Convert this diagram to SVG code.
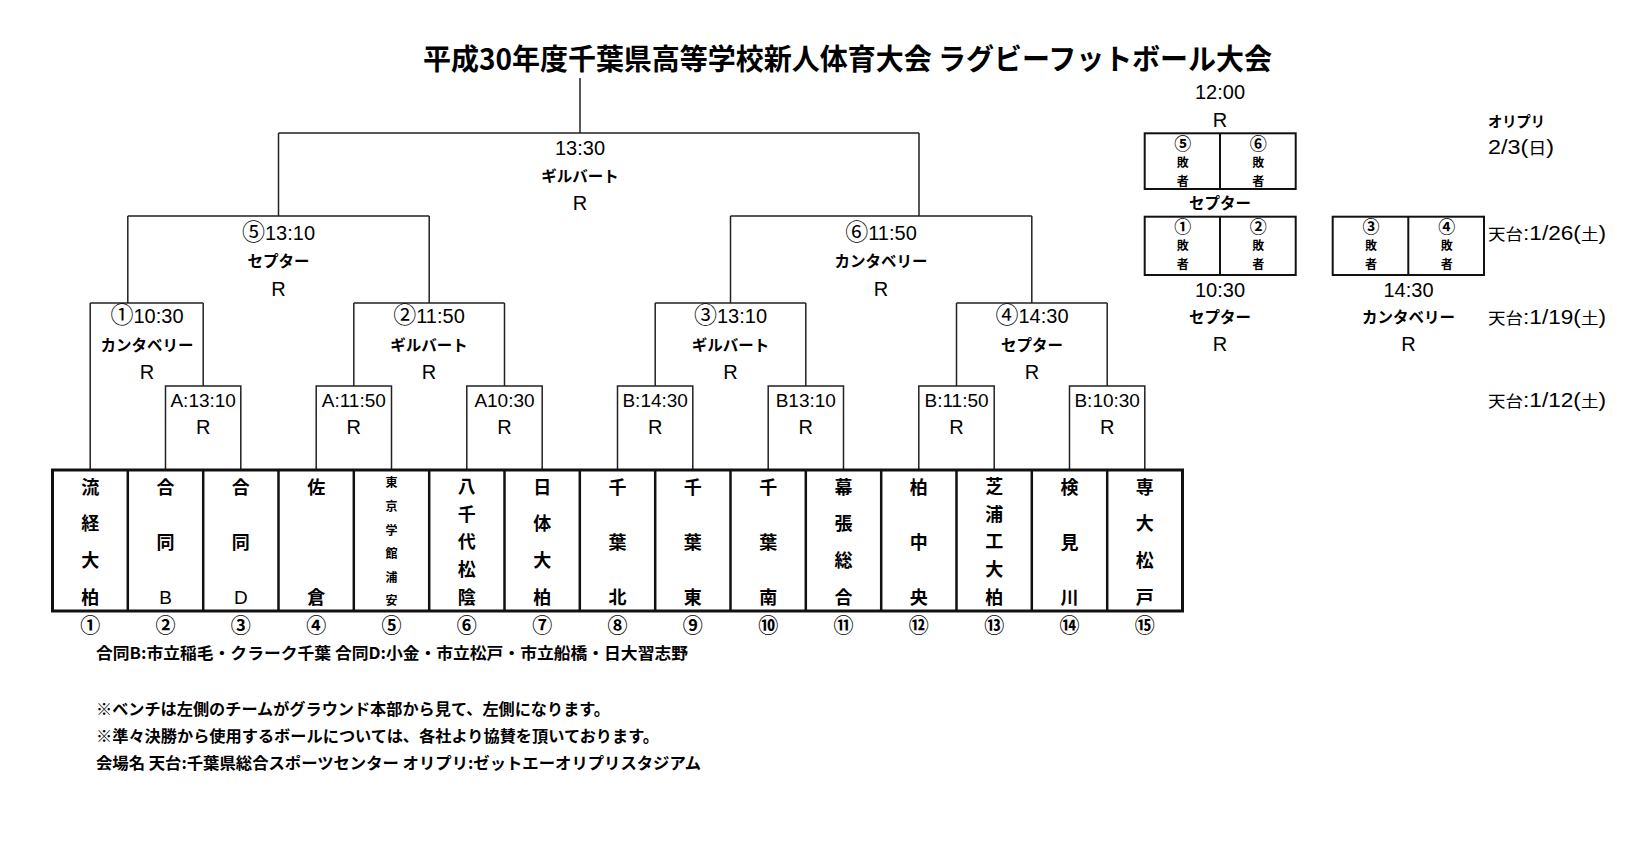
<svg xmlns="http://www.w3.org/2000/svg" width="1645" height="841" viewBox="0 0 1645 841">
<style>
.ln{stroke:#222;stroke-width:1.5;fill:none}
.bx{stroke:#111;fill:none}
.t{font-family:"Liberation Sans","Noto Sans CJK JP",sans-serif;font-size:20px;fill:#000;text-anchor:middle}
.r1{font-size:19px}
.cn{font-family:"Noto Sans CJK JP",sans-serif;font-size:23px}
.k{font-family:"Noto Sans CJK JP",sans-serif;font-size:15.5px;font-weight:bold;fill:#000;text-anchor:middle}
.tm{font-family:"Noto Sans CJK JP",sans-serif;font-size:18px;font-weight:bold;fill:#000;text-anchor:middle}
.lat{font-family:"Liberation Sans",sans-serif;font-weight:normal;font-size:19px}
.sm{font-family:"Noto Sans CJK JP",sans-serif;font-size:12px;font-weight:bold;fill:#000;text-anchor:middle}
.smn{font-size:17px}
.num{font-family:"Noto Sans CJK JP",sans-serif;font-size:20px;font-weight:bold;fill:#000;text-anchor:middle}
.note{font-family:"Noto Sans CJK JP",sans-serif;font-size:16px;font-weight:bold;fill:#000}
.side{font-family:"Liberation Sans","Noto Sans CJK JP",sans-serif;font-size:20px;fill:#000}
.cj{font-family:"Noto Sans CJK JP",sans-serif;font-size:15.5px}
.title{font-family:"Noto Sans CJK JP",sans-serif;font-size:29px;font-weight:bold;fill:#000;text-anchor:middle}
</style>
<rect width="1645" height="841" fill="#fff"/>
<g id="title"><text class="title" x="847.5" y="69.5" textLength="849" lengthAdjust="spacingAndGlyphs">平成30年度千葉県高等学校新人体育大会 ラグビーフットボール大会</text></g>

<g id="connectors">
<path class="ln" d="M580,78V133M278.5,133H919M278.5,133V216M919,133V216"/>
<path class="ln" d="M127.8,216H429.2M127.8,216V303M429.2,216V303"/>
<path class="ln" d="M730.5,216H1031.8M730.5,216V303M1031.8,216V303"/>
<path class="ln" d="M90.2,303H203.2M90.2,303V470M203.2,303V386"/>
<path class="ln" d="M353.8,303H504.5M353.8,303V386M504.5,303V386"/>
<path class="ln" d="M655.2,303H805.8M655.2,303V386M805.8,303V386"/>
<path class="ln" d="M956.5,303H1107.2M956.5,303V386M1107.2,303V386"/>
<path class="ln" d="M165.5,470V386H240.8V470M316.2,470V386H391.5V470M466.8,470V386H542.2V470M617.5,470V386H692.8V470M768.2,470V386H843.5V470M918.8,470V386H994.2V470M1069.5,470V386H1144.8V470"/>
</g>

<g id="final">
<text class="t" x="580" y="155">13:30</text>
<text class="k" x="580" y="181.5">ギルバート</text>
<text class="t" x="580" y="210">R</text>
</g>
<g id="sf5">
<text class="t" x="278.5" y="239.5"><tspan class="cn">⑤</tspan>13:10</text>
<text class="k" x="278.5" y="267">セプター</text>
<text class="t" x="278.5" y="296">R</text>
</g>
<g id="sf6">
<text class="t" x="881" y="239.5"><tspan class="cn">⑥</tspan>11:50</text>
<text class="k" x="881" y="267">カンタベリー</text>
<text class="t" x="881" y="296">R</text>
</g>
<g id="qf1">
<text class="t" x="147" y="323"><tspan class="cn">①</tspan>10:30</text>
<text class="k" x="147" y="351">カンタベリー</text>
<text class="t" x="147" y="379">R</text>
</g>
<g id="qf2">
<text class="t" x="429" y="323"><tspan class="cn">②</tspan>11:50</text>
<text class="k" x="429" y="351">ギルバート</text>
<text class="t" x="429" y="379">R</text>
</g>
<g id="qf3">
<text class="t" x="730.5" y="323"><tspan class="cn">③</tspan>13:10</text>
<text class="k" x="730.5" y="351">ギルバート</text>
<text class="t" x="730.5" y="379">R</text>
</g>
<g id="qf4">
<text class="t" x="1032" y="323"><tspan class="cn">④</tspan>14:30</text>
<text class="k" x="1032" y="351">セプター</text>
<text class="t" x="1032" y="379">R</text>
</g>
<g id="r1a1"><text class="t r1" x="203.2" y="407">A:13:10</text><text class="t" x="203.2" y="434">R</text></g>
<g id="r1a2"><text class="t r1" x="353.8" y="407">A:11:50</text><text class="t" x="353.8" y="434">R</text></g>
<g id="r1a3"><text class="t r1" x="504.5" y="407">A10:30</text><text class="t" x="504.5" y="434">R</text></g>
<g id="r1b1"><text class="t r1" x="655.2" y="407">B:14:30</text><text class="t" x="655.2" y="434">R</text></g>
<g id="r1b2"><text class="t r1" x="805.8" y="407">B13:10</text><text class="t" x="805.8" y="434">R</text></g>
<g id="r1b3"><text class="t r1" x="956.5" y="407">B:11:50</text><text class="t" x="956.5" y="434">R</text></g>
<g id="r1b4"><text class="t r1" x="1107.2" y="407">B:10:30</text><text class="t" x="1107.2" y="434">R</text></g>

<g id="teams">
<rect class="bx" x="52.5" y="470" width="1130" height="141" stroke-width="3"/>
<path class="bx" stroke-width="2.5" d="M127.8,470V611M203.2,470V611M278.5,470V611M353.8,470V611M429.2,470V611M504.5,470V611M579.8,470V611M655.2,470V611M730.5,470V611M805.8,470V611M881.2,470V611M956.5,470V611M1031.8,470V611M1107.2,470V611"/>
</g>
<g id="team1"><text class="tm" x="90.2" y="494">流</text><text class="tm" x="90.2" y="530">経</text><text class="tm" x="90.2" y="567">大</text><text class="tm" x="90.2" y="604">柏</text><text class="num" x="90.2" y="633">①</text></g>
<g id="team2"><text class="tm" x="165.5" y="494">合</text><text class="tm" x="165.5" y="549">同</text><text class="tm lat" x="165.5" y="604">B</text><text class="num" x="165.5" y="633">②</text></g>
<g id="team3"><text class="tm" x="240.8" y="494">合</text><text class="tm" x="240.8" y="549">同</text><text class="tm lat" x="240.8" y="604">D</text><text class="num" x="240.8" y="633">③</text></g>
<g id="team4"><text class="tm" x="316.2" y="494">佐</text><text class="tm" x="316.2" y="604">倉</text><text class="num" x="316.2" y="633">④</text></g>
<g id="team5"><text class="sm" x="391.5" y="487.3">東</text><text class="sm" x="391.5" y="510.9">京</text><text class="sm" x="391.5" y="534.5">学</text><text class="sm" x="391.5" y="558.1">館</text><text class="sm" x="391.5" y="581.7">浦</text><text class="sm" x="391.5" y="605.3">安</text><text class="num" x="391.5" y="633">⑤</text></g>
<g id="team6"><text class="tm" x="466.8" y="493">八</text><text class="tm" x="466.8" y="520.5">千</text><text class="tm" x="466.8" y="548">代</text><text class="tm" x="466.8" y="575.5">松</text><text class="tm" x="466.8" y="603.5">陰</text><text class="num" x="466.8" y="633">⑥</text></g>
<g id="team7"><text class="tm" x="542.2" y="494">日</text><text class="tm" x="542.2" y="530">体</text><text class="tm" x="542.2" y="567">大</text><text class="tm" x="542.2" y="604">柏</text><text class="num" x="542.2" y="633">⑦</text></g>
<g id="team8"><text class="tm" x="617.5" y="494">千</text><text class="tm" x="617.5" y="549">葉</text><text class="tm" x="617.5" y="604">北</text><text class="num" x="617.5" y="633">⑧</text></g>
<g id="team9"><text class="tm" x="692.8" y="494">千</text><text class="tm" x="692.8" y="549">葉</text><text class="tm" x="692.8" y="604">東</text><text class="num" x="692.8" y="633">⑨</text></g>
<g id="team10"><text class="tm" x="768.2" y="494">千</text><text class="tm" x="768.2" y="549">葉</text><text class="tm" x="768.2" y="604">南</text><text class="num" x="768.2" y="633">⑩</text></g>
<g id="team11"><text class="tm" x="843.5" y="494">幕</text><text class="tm" x="843.5" y="530">張</text><text class="tm" x="843.5" y="567">総</text><text class="tm" x="843.5" y="604">合</text><text class="num" x="843.5" y="633">⑪</text></g>
<g id="team12"><text class="tm" x="918.8" y="494">柏</text><text class="tm" x="918.8" y="549">中</text><text class="tm" x="918.8" y="604">央</text><text class="num" x="918.8" y="633">⑫</text></g>
<g id="team13"><text class="tm" x="994.2" y="493">芝</text><text class="tm" x="994.2" y="520.5">浦</text><text class="tm" x="994.2" y="548">工</text><text class="tm" x="994.2" y="575.5">大</text><text class="tm" x="994.2" y="603.5">柏</text><text class="num" x="994.2" y="633">⑬</text></g>
<g id="team14"><text class="tm" x="1069.5" y="494">検</text><text class="tm" x="1069.5" y="549">見</text><text class="tm" x="1069.5" y="604">川</text><text class="num" x="1069.5" y="633">⑭</text></g>
<g id="team15"><text class="tm" x="1144.8" y="494">専</text><text class="tm" x="1144.8" y="530">大</text><text class="tm" x="1144.8" y="567">松</text><text class="tm" x="1144.8" y="604">戸</text><text class="num" x="1144.8" y="633">⑮</text></g>

<g id="place-final">
<text class="t" x="1220" y="99">12:00</text>
<text class="t" x="1220" y="127">R</text>
<rect class="bx" x="1144.7" y="133.3" width="151" height="55.7" stroke-width="2"/>
<path class="bx" stroke-width="2" d="M1220,133.3V189"/>
<text class="sm smn" x="1182.7" y="149.5">⑤</text><text class="sm" x="1182.7" y="166.7">敗</text><text class="sm" x="1182.7" y="185.7">者</text>
<text class="sm smn" x="1258.3" y="149.5">⑥</text><text class="sm" x="1258.3" y="166.7">敗</text><text class="sm" x="1258.3" y="185.7">者</text>
<text class="k" x="1220" y="209">セプター</text>
</g>
<g id="place-12">
<rect class="bx" x="1144.7" y="216.7" width="151" height="58.3" stroke-width="2"/>
<path class="bx" stroke-width="2" d="M1220,216.7V275"/>
<text class="sm smn" x="1182.7" y="233.3">①</text><text class="sm" x="1182.7" y="250.1">敗</text><text class="sm" x="1182.7" y="269.1">者</text>
<text class="sm smn" x="1258.3" y="233.3">②</text><text class="sm" x="1258.3" y="250.1">敗</text><text class="sm" x="1258.3" y="269.1">者</text>
<text class="t" x="1220" y="296.5">10:30</text>
<text class="k" x="1220" y="322.6">セプター</text>
<text class="t" x="1220" y="351">R</text>
</g>
<g id="place-34">
<rect class="bx" x="1332.7" y="216.7" width="151.3" height="58.3" stroke-width="2"/>
<path class="bx" stroke-width="2" d="M1408.3,216.7V275"/>
<text class="sm smn" x="1371" y="233.3">③</text><text class="sm" x="1371" y="250.1">敗</text><text class="sm" x="1371" y="269.1">者</text>
<text class="sm smn" x="1446.7" y="233.3">④</text><text class="sm" x="1446.7" y="250.1">敗</text><text class="sm" x="1446.7" y="269.1">者</text>
<text class="t" x="1408.5" y="296.5">14:30</text>
<text class="k" x="1408.5" y="322.6">カンタベリー</text>
<text class="t" x="1408.5" y="351">R</text>
</g>

<g id="schedule">
<text class="k" x="1488" y="127" style="text-anchor:start;font-size:15px" textLength="57" lengthAdjust="spacingAndGlyphs">オリプリ</text>
<text class="side" x="1488" y="154" textLength="66" lengthAdjust="spacingAndGlyphs">2/3(<tspan class="cj">日</tspan>)</text>
<text class="side" x="1488" y="240" textLength="118" lengthAdjust="spacingAndGlyphs"><tspan class="cj">天台</tspan>:1/26(<tspan class="cj">土</tspan>)</text>
<text class="side" x="1488" y="323.5" textLength="118" lengthAdjust="spacingAndGlyphs"><tspan class="cj">天台</tspan>:1/19(<tspan class="cj">土</tspan>)</text>
<text class="side" x="1488" y="407" textLength="118" lengthAdjust="spacingAndGlyphs"><tspan class="cj">天台</tspan>:1/12(<tspan class="cj">土</tspan>)</text>
</g>

<g id="notes">
<text class="note" x="96" y="659" textLength="592" lengthAdjust="spacingAndGlyphs">合同B:市立稲毛・クラーク千葉 合同D:小金・市立松戸・市立船橋・日大習志野</text>
<text class="note" x="96" y="715" textLength="514" lengthAdjust="spacingAndGlyphs">※ベンチは左側のチームがグラウンド本部から見て、左側になります。</text>
<text class="note" x="96" y="742" textLength="563" lengthAdjust="spacingAndGlyphs">※準々決勝から使用するボールについては、各社より協賛を頂いております。</text>
<text class="note" x="96" y="769" textLength="605" lengthAdjust="spacingAndGlyphs">会場名 天台:千葉県総合スポーツセンター オリプリ:ゼットエーオリプリスタジアム</text>
</g>
</svg>
